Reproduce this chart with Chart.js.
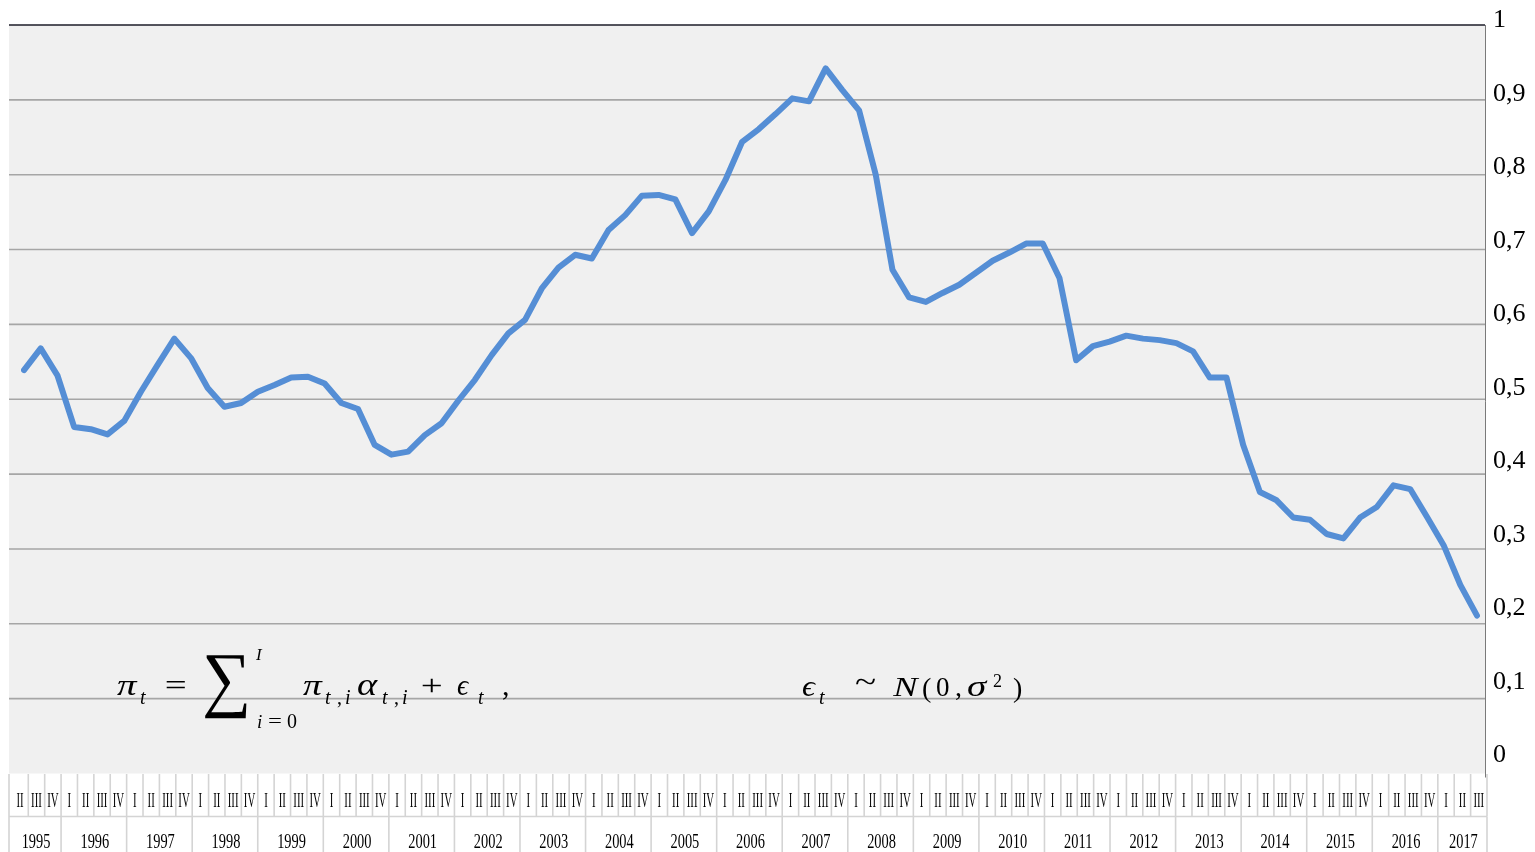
<!DOCTYPE html>
<html lang="pt">
<head>
<meta charset="utf-8">
<title>Grafico trimestral</title>
<script src="https://cdn.jsdelivr.net/npm/chart.js@4.4.1/dist/chart.umd.min.js"></script>
<style>
  html, body { margin: 0; padding: 0; background: #fff; }
  #wrap { width: 1535px; height: 852px; }
</style>
</head>
<body>
<div id="wrap"><canvas id="grafico" width="1535" height="852"></canvas></div>
<script>
// Anos e trimestres do eixo horizontal
const anos = [1995, 1996, 1997, 1998, 1999, 2000, 2001, 2002, 2003, 2004, 2005, 2006,
  2007, 2008, 2009, 2010, 2011, 2012, 2013, 2014, 2015, 2016, 2017];
const trimestres = ["I", "II", "III", "IV"];
const inicioTabela = 1; // 1995 começa no II
const fimTabela = 2;    // 2017 termina no III

// Valores da série (a partir de 1995 II)
const valores = [
  0.539, 0.568, 0.532, 0.463, 0.460, 0.453, 0.471, 0.510, 0.546, 0.581,
  0.555, 0.515, 0.490, 0.495, 0.510, 0.519, 0.529, 0.530, 0.521, 0.495,
  0.487, 0.439, 0.426, 0.430, 0.452, 0.468, 0.498, 0.526, 0.559, 0.588,
  0.606, 0.648, 0.676, 0.693, 0.688, 0.726, 0.746, 0.772, 0.773, 0.767,
  0.722, 0.751, 0.793, 0.844, 0.861, 0.881, 0.902, 0.898, 0.942, 0.913,
  0.886, 0.800, 0.673, 0.636, 0.630, 0.642, 0.653, 0.669, 0.685, 0.696,
  0.708, 0.708, 0.662, 0.552, 0.571, 0.577, 0.585, 0.581, 0.579, 0.575,
  0.564, 0.529, 0.529, 0.439, 0.376, 0.365, 0.342, 0.339, 0.320, 0.314,
  0.342, 0.356, 0.385, 0.380, 0.343, 0.305, 0.252, 0.211
];

// Marcas do eixo vertical
const yTicks = [0, 0.1, 0.2, 0.3, 0.4, 0.5, 0.6, 0.7, 0.8, 0.9, 1];

// Lista de células trimestre/ano da tabela de rótulos
function montarTrimestres() {
  const lista = [];
  anos.forEach((ano, j) => {
    trimestres.forEach((t, q) => {
      if (j === 0 && q < inicioTabela) return;
      if (j === anos.length - 1 && q > fimTabela) return;
      lista.push({ ano: ano, t: t });
    });
  });
  return lista;
}
const celulas = montarTrimestres();
const rotulosSerie = celulas.slice(0, valores.length).map((c) => c.t + " " + c.ano);

function rotuloY(v) {
  const r = Math.round(v * 10) / 10;
  return String(r).replace(".", ",");
}

const SERIF = "'Liberation Serif', 'Times New Roman', serif";

// Fundo cinza, grade e bordas
const fundo = {
  id: "fundo",
  beforeDraw(chart) {
    const ctx = chart.ctx;
    const y = chart.scales.y;
    const esq = 9, dir = 1485;
    const topo = y.getPixelForValue(1), base = y.getPixelForValue(0);
    ctx.save();
    ctx.fillStyle = "#ffffff";
    ctx.fillRect(0, 0, chart.width, chart.height);
    ctx.fillStyle = "#f0f0f0";
    ctx.fillRect(esq, topo, dir - esq, base - topo);
    ctx.strokeStyle = "#a6a6a6";
    ctx.lineWidth = 1.6;
    yTicks.forEach((v) => {
      if (v === 0 || v === 1) return;
      const p = y.getPixelForValue(v);
      ctx.beginPath();
      ctx.moveTo(esq, p);
      ctx.lineTo(dir, p);
      ctx.stroke();
    });
    // borda superior
    ctx.strokeStyle = "#1c1c28";
    ctx.lineWidth = 1.5;
    ctx.beginPath();
    ctx.moveTo(esq, topo);
    ctx.lineTo(dir, topo);
    ctx.stroke();
    // borda direita
    ctx.strokeStyle = "#7a7a7a";
    ctx.lineWidth = 1;
    ctx.beginPath();
    ctx.moveTo(dir + 0.5, topo);
    ctx.lineTo(dir + 0.5, base + 4);
    ctx.stroke();
    ctx.restore();
  }
};

function textoComprimido(ctx, txt, cx, by, sx) {
  ctx.save();
  ctx.translate(cx, by);
  ctx.scale(sx, 1);
  ctx.fillText(txt, 0, 0);
  ctx.restore();
}

// Tabela de trimestres e anos abaixo do gráfico
const tabela = {
  id: "tabela",
  afterDraw(chart) {
    const ctx = chart.ctx;
    const x0 = 11.9, larg = 16.39;
    const y1 = 774, yMeio = 816.5, y2 = 852;
    const n = celulas.length;
    const xFim = x0 + n * larg;
    ctx.save();
    ctx.strokeStyle = "#d4d4d4";
    ctx.lineWidth = 1.6;
    const linha = (a, b, c, d) => { ctx.beginPath(); ctx.moveTo(a, b); ctx.lineTo(c, d); ctx.stroke(); };
    linha(9, yMeio, xFim, yMeio);
    linha(9, y1, 9, y2);
    for (let k = 1; k <= n; k++) {
      linha(x0 + k * larg, y1, x0 + k * larg, yMeio);
    }
    ctx.fillStyle = "#000";
    ctx.textAlign = "center";
    ctx.textBaseline = "alphabetic";
    ctx.font = "20px " + SERIF;
    celulas.forEach((c, k) => {
      textoComprimido(ctx, c.t, x0 + (k + 0.5) * larg, 806.7, 0.54);
    });
    let k = 0;
    anos.forEach((ano) => {
      const ini = k;
      while (k < n && celulas[k].ano === ano) k++;
      const xa = ini === 0 ? 9 : x0 + ini * larg;
      const xb = x0 + k * larg;
      linha(xb, yMeio, xb, y2);
      textoComprimido(ctx, String(ano), (xa + xb) / 2 + 1, 848.3, 0.72);
    });
    ctx.restore();
  }
};

// Equações escritas sobre o gráfico
// [texto, esquerda, direita (ou null), linha de base, tamanho, itálico]
const eq = [
  ["π", 117, 138, 695, 30, true],
  ["t", 140, null, 704, 20, true],
  ["=", 166, 187, 695, 30, false],
  ["I", 256, null, 660, 17, true],
  ["i", 257, null, 728, 19, true],
  ["=", 268, 282, 727, 19, false],
  ["0", 287, null, 728, 20, false],
  ["π", 303, 323, 695, 30, true],
  ["t", 325, null, 704, 20, true],
  [",", 337, null, 704, 20, false],
  ["i", 345, null, 704, 20, true],
  ["α", 357, 378, 695, 31, true],
  ["t", 382, null, 704, 20, true],
  [",", 394, null, 704, 20, false],
  ["i", 402, null, 704, 20, true],
  ["+", 422, 443, 695, 30, false],
  ["ϵ", 457, 470, 695, 30, true],
  ["t", 478, null, 704, 20, true],
  [",", 502, null, 695, 30, false],
  ["ϵ", 802, 817, 696, 30, true],
  ["t", 819, null, 704, 20, true],
  ["~", 855, 877, 692, 30, false],
  ["N", 892, 920, 696, 28, true],
  ["(", 922, null, 697, 28, false],
  ["0", 936, null, 696, 27, false],
  [",", 955, null, 696, 28, false],
  ["σ", 967, 988, 696, 30, true],
  ["2", 993, null, 687, 18, false],
  [")", 1013, null, 697, 28, false]
];
const somatorio = { txt: "∑", esq: 205, dir: 247, topo: 655, base: 719 };

const equacao = {
  id: "equacao",
  afterDraw(chart) {
    const ctx = chart.ctx;
    ctx.save();
    ctx.fillStyle = "#000";
    ctx.textAlign = "left";
    ctx.textBaseline = "alphabetic";
    eq.forEach(([t, x, xd, by, tam, it]) => {
      ctx.font = (it ? "italic " : "") + tam + "px " + SERIF;
      if (xd !== null) {
        const m = ctx.measureText(t);
        const w = m.actualBoundingBoxRight + m.actualBoundingBoxLeft;
        let sx = 1;
        if (w > 0) sx = Math.min(1.3, Math.max(0.6, (xd - x) / w));
        ctx.save();
        ctx.translate(x, by);
        ctx.scale(sx, 1);
        ctx.fillText(t, m.actualBoundingBoxLeft, 0);
        ctx.restore();
      } else {
        ctx.fillText(t, x, by);
      }
    });
    // somatório ajustado à caixa
    ctx.font = "100px " + SERIF;
    const m = ctx.measureText(somatorio.txt);
    const h = m.actualBoundingBoxAscent + m.actualBoundingBoxDescent;
    const w = m.actualBoundingBoxRight + m.actualBoundingBoxLeft;
    const sy = (somatorio.base - somatorio.topo) / h;
    const sx = (somatorio.dir - somatorio.esq) / w;
    ctx.save();
    ctx.translate(somatorio.esq, somatorio.topo);
    ctx.scale(sx, sy);
    ctx.fillText(somatorio.txt, m.actualBoundingBoxLeft, m.actualBoundingBoxAscent);
    ctx.restore();
    ctx.restore();
  }
};

const grafico = new Chart(document.getElementById("grafico").getContext("2d"), {
  type: "line",
  data: {
    labels: rotulosSerie,
    datasets: [{
      data: valores,
      borderColor: "#558ed5",
      borderWidth: 6,
      pointRadius: 0,
      tension: 0,
      fill: false,
      borderCapStyle: "round",
      borderJoinStyle: "round"
    }]
  },
  options: {
    responsive: false,
    animation: false,
    devicePixelRatio: 1,
    layout: { padding: { left: 24, top: 25, right: 0, bottom: 78.5 } },
    plugins: { legend: { display: false }, tooltip: { enabled: false } },
    scales: {
      x: { display: false, offset: false },
      // escala dos dados
      y: { display: false, min: 0, max: 1 },
      // escala só dos rótulos (na imagem original ficam um pouco mais juntos)
      yRotulos: {
        position: "right",
        min: -0.0245,
        max: 0.9936,
        afterBuildTicks: (s) => { s.ticks = yTicks.map((v) => ({ value: v })); },
        afterFit: (s) => { s.width = 58; s.paddingTop = 0; s.paddingBottom = 0; },
        grid: { display: false, drawTicks: false },
        border: { display: false },
        ticks: {
          padding: 16,
          color: "#000",
          font: { family: SERIF, size: 26 },
          callback: (v) => rotuloY(v)
        }
      }
    }
  },
  plugins: [fundo, tabela, equacao]
});
</script>
</body>
</html>
